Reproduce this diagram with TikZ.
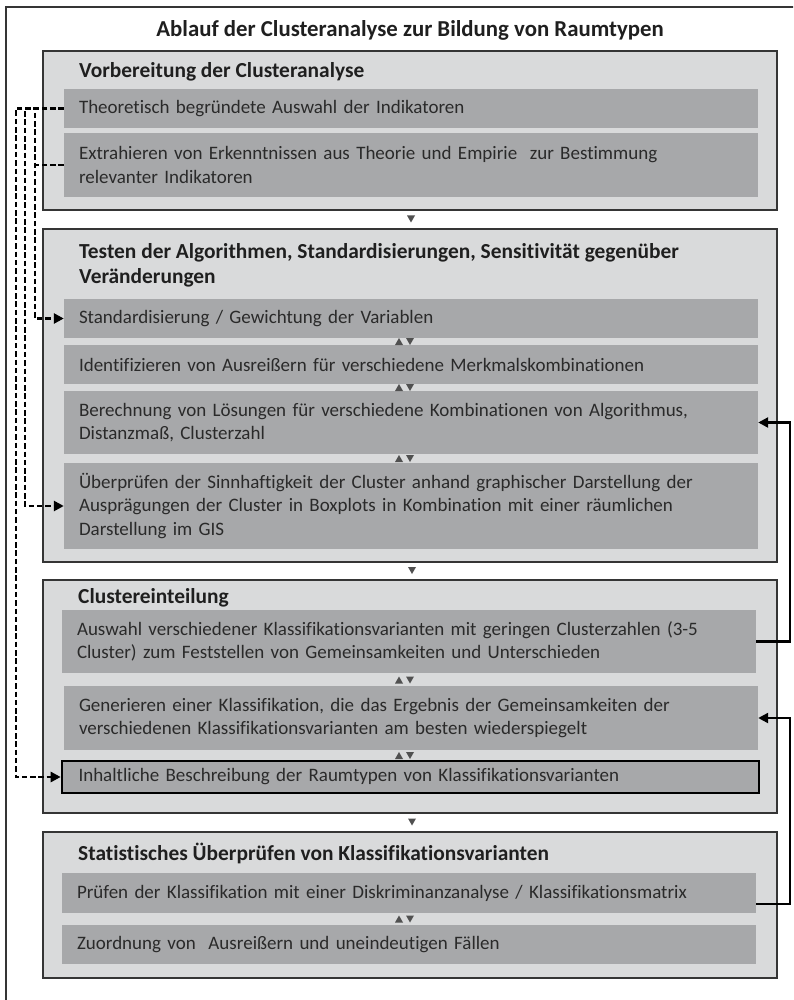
\documentclass[tikz,border=0pt]{standalone}
\usepackage{fontspec}
\setmainfont{Carlito}[Ligatures=NoCommon]
\usetikzlibrary{arrows.meta}
\definecolor{lightbg}{HTML}{D9DADB}
\definecolor{midbg}{HTML}{A7A8AA}
\definecolor{framec}{HTML}{353535}
\definecolor{txt}{HTML}{2A2A2A}
\definecolor{tric}{HTML}{505050}
\newcommand\mytridown[2]{\fill[tric] (#1-4,#2-3.5) -- (#1+4,#2-3.5) -- (#1,#2+3.5) -- cycle;}
\newcommand\mytriup[2]{\fill[tric] (#1-4,#2+3.5) -- (#1+4,#2+3.5) -- (#1,#2-3.5) -- cycle;}
\newcommand\mytripair[2]{\mytriup{#1-6}{#2}\mytridown{#1+5}{#2}}
\begin{document}
\begin{tikzpicture}[x=1pt,y=-1pt,
  sect/.style={draw=framec, line width=1.8pt, fill=lightbg, inner sep=0pt, minimum width=734pt},
  inbox/.style={fill=midbg, inner xsep=15pt, inner ysep=0pt, align=left, text=txt,
     font=\fontsize{19}{23.5}\selectfont, minimum width=694pt, text width=664pt},
  head/.style={anchor=west, font=\bfseries\fontsize{21.4}{25}\selectfont, text=black!88, align=left, inner sep=0pt},
  dashc/.style={line width=2.8pt, dash pattern=on 5.5pt off 2.8pt},
  fb/.style={line width=2.4pt},
  arr/.style={-{Triangle[length=10pt,width=10pt]}}
]
\useasboundingbox (0,0) rectangle (793,1000);
\fill[white] (0,0) rectangle (793,1000);
\begin{scope}
\clip (0,0) rectangle (793,1000);
\draw[framec, line width=1.6pt] (6,7) rectangle (820,1020);
\end{scope}

\node[font=\bfseries\fontsize{22.8}{26}\selectfont, text=black!88] (title) at (410,30) {Ablauf der Clusteranalyse zur Bildung von Raumtypen};

% section boxes
\node[sect, minimum height=159pt] (s1) at (410,130.5) {};
\node[sect, minimum height=333pt] (s2) at (410,395.5) {};
\node[sect, minimum height=233pt] (s3) at (410,696.5) {};
\node[sect, minimum height=146pt] (s4) at (410,905) {};

% headings
\node[head] (h1) at (79,72) {Vorbereitung der Clusteranalyse};
\node[head] (h2) at (79,265.5) {Testen der Algorithmen, Standardisierungen, Sensitivität gegenüber\\Veränderungen};
\node[head] (h3) at (78,598) {Clustereinteilung};
\node[head] (h4) at (78,853) {Statistisches Überprüfen von Klassifikationsvarianten};

% inner boxes
\node[inbox, minimum height=39pt] (b1a) at (411,108.5) {Theoretisch begründete Auswahl der Indikatoren};
\node[inbox, minimum height=64pt] (b1b) at (411,165) {Extrahieren von Erkenntnissen aus Theorie und Empirie \ zur Bestimmung\\relevanter Indikatoren};

\node[inbox, minimum height=39pt] (b2a) at (411,318.5) {Standardisierung / Gewichtung der Variablen};
\node[inbox, minimum height=39pt] (b2b) at (411,364.5) {Identifizieren von Ausreißern für verschiedene Merkmalskombinationen};
\node[inbox, minimum height=63pt] (b2c) at (411,422.5) {Berechnung von Lösungen für verschiedene Kombinationen von Algorithmus,\\Distanzmaß, Clusterzahl};
\node[inbox, minimum height=86pt] (b2d) at (411,506) {Überprüfen der Sinnhaftigkeit der Cluster anhand graphischer Darstellung der\\Ausprägungen der Cluster in Boxplots in Kombination mit einer räumlichen\\Darstellung im GIS};

\node[inbox, minimum height=63pt] (b3a) at (409,641.5) {Auswahl verschiedener Klassifikationsvarianten mit geringen Clusterzahlen (3-5\\Cluster) zum Feststellen von Gemeinsamkeiten und Unterschieden};
\node[inbox, minimum height=64pt] (b3b) at (411,718) {Generieren einer Klassifikation, die das Ergebnis der Gemeinsamkeiten der\\verschiedenen Klassifikationsvarianten am besten wiederspiegelt};
\node[inbox, minimum height=32pt, minimum width=697pt, draw=black, line width=2.6pt] (b3c) at (410.5,777) {Inhaltliche Beschreibung der Raumtypen von Klassifikationsvarianten};

\node[inbox, minimum height=40pt] (b4a) at (409,893) {Prüfen der Klassifikation mit einer Diskriminanzanalyse / Klassifikationsmatrix};
\node[inbox, minimum height=39pt] (b4b) at (409,944.5) {Zuordnung von \ Ausreißern und uneindeutigen Fällen};

% triangles between sections
\mytridown{411}{219}
\mytridown{412}{570.5}
\mytridown{412}{822}
% triangle pairs between inner boxes
\mytripair{405}{341.5}
\mytripair{405}{387.5}
\mytripair{405}{458.5}
\mytripair{405}{680}
\mytripair{405}{755.5}
\mytripair{405}{919}

% dashed connectors on the left
\draw[dashc, arr] (b1a.west) -- (16,108.5) |- (b3c.west);
\draw[dashc, arr] (b1a.west) -- (25,108.5) |- (b2d.west);
\draw[dashc, arr] (b1a.west) -- (35,108.5) |- (b2a.west);
\draw[dashc] (b1b.west) -- (35,165);

% feedback connectors on the right
\draw[fb, arr] (b3a.east) -- (790,641.5) |- (b2c.east);
\draw[fb, arr] ([yshift=-11pt]b4a.east) -- (790,904) |- (b3b.east);
\end{tikzpicture}
\end{document}
